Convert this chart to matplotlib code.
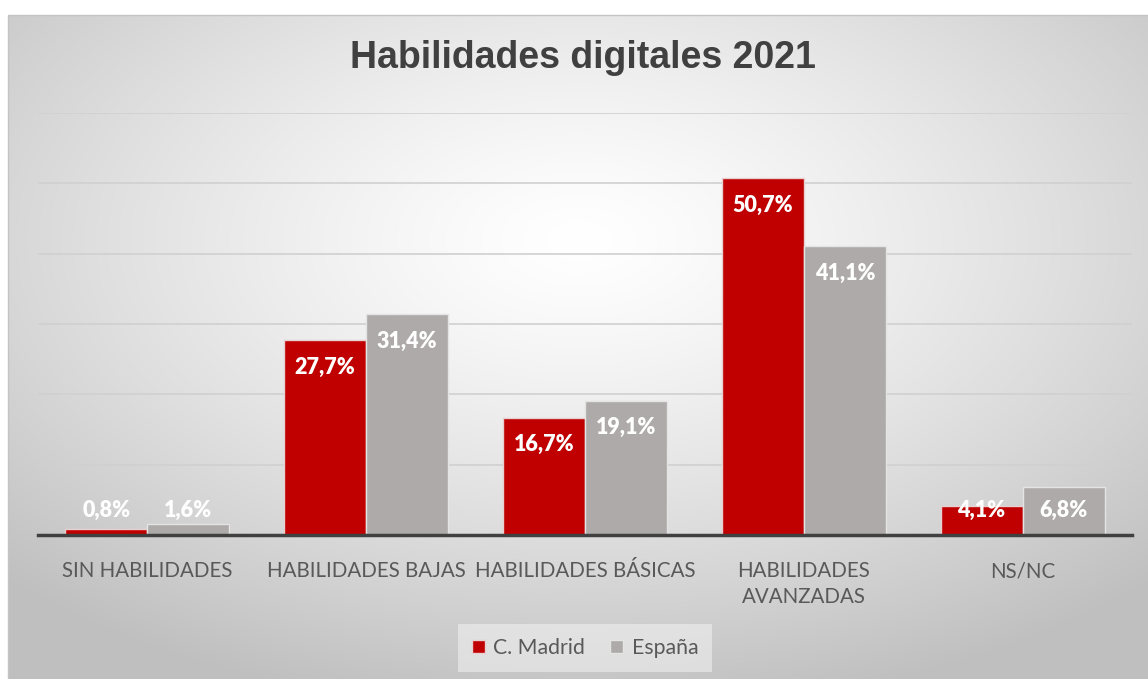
import matplotlib.pyplot as plt
import numpy as np
from matplotlib.patches import Rectangle

# data
categories = ['SIN HABILIDADES', 'HABILIDADES BAJAS', 'HABILIDADES BÁSICAS',
              'HABILIDADES\nAVANZADAS', 'NS/NC']
madrid = [0.8, 27.7, 16.7, 50.7, 4.1]
espana = [1.6, 31.4, 19.1, 41.1, 6.8]
series_names = ['C. Madrid', 'España']

red = '#C00000'
grey = '#AEAAAA'
txt = '#595959'

W, H = 1148, 679
fig = plt.figure(figsize=(W / 100, H / 100), dpi=100)

#####################################################################
# background: white margin + radial gradient panel
bg = fig.add_axes([0, 0, 1, 1], zorder=-10)
bg.set_xlim(0, W)
bg.set_ylim(H, 0)
bg.set_axis_off()
xx, yy = np.meshgrid(np.arange(W), np.arange(H))
d = np.sqrt(((xx - 575) / W) ** 2 + ((yy - 230) / H) ** 2)
t = np.clip(d / 0.72, 0, 1) ** 1.3
val = 1.0 - t * (1.0 - 0.75)
img = np.dstack([val, val, val])
bg.imshow(img, extent=(8, W, H, 15), aspect='auto', interpolation='bilinear')
bg.add_patch(Rectangle((8, 15), W, H, fill=False, edgecolor='#c4c4c4', lw=1))

#####################################################################
# bar chart
ax = fig.add_axes([38 / W, 1 - 535 / H, (1132 - 38) / W, (535 - 113) / H])
ax.patch.set_alpha(0)
x = np.arange(len(categories))
bw = 0.375
b1 = ax.bar(x - bw / 2, madrid, bw, color=red, edgecolor='#e8d0d0', lw=1, zorder=3,
            label=series_names[0])
b2 = ax.bar(x + bw / 2, espana, bw, color=grey, edgecolor='#e4e4e4', lw=1, zorder=3,
            label=series_names[1])

ax.set_xlim(-0.5, len(categories) - 0.5)
ax.set_ylim(0, 60)
ax.set_yticks(np.arange(0, 61, 10))
ax.set_yticklabels([])
ax.tick_params(axis='y', length=0)
ax.yaxis.grid(True, color='#d0d0d0', lw=1.2, zorder=0)
ax.set_xticks(x)
ax.set_xticklabels(categories, fontsize=14.8, color=txt, family='Lato', linespacing=1.35)
ax.tick_params(axis='x', length=0, pad=19)
for s in ['top', 'right', 'left']:
    ax.spines[s].set_visible(False)
ax.spines['bottom'].set_color('#404040')
ax.spines['bottom'].set_linewidth(2.5)
ax.spines['bottom'].set_zorder(4)

# data labels: inside end, clamped near the base
for bars, vals in [(b1, madrid), (b2, espana)]:
    for b, v in zip(bars, vals):
        ax.text(b.get_x() + b.get_width() / 2, max(v - 3.85, 3.45),
                f'{v:.1f}%'.replace('.', ','), ha='center', va='center',
                color='white', fontsize=15.5, fontweight='heavy', family='Lato', zorder=5)

fig.text(0.508, 1 - 58 / H, 'Habilidades digitales 2021', ha='center', va='center',
         fontsize=27, fontweight='bold', color='#404040', family='Liberation Sans')

leg = fig.legend(handles=[b1, b2], loc='center', bbox_to_anchor=(585 / W, 1 - 648 / H),
                 ncol=2, frameon=True, handlelength=0.6, handleheight=0.6,
                 handletextpad=0.4, columnspacing=1.2, borderpad=0.35,
                 prop={'family': 'Lato', 'size': 15.3})
leg.get_frame().set_facecolor('#f6f6f6')
leg.get_frame().set_edgecolor('none')
leg.get_frame().set_alpha(0.5)
leg.get_frame().set_boxstyle('square')
for t_ in leg.get_texts():
    t_.set_color(txt)

fig.savefig('out.png', dpi=100)
